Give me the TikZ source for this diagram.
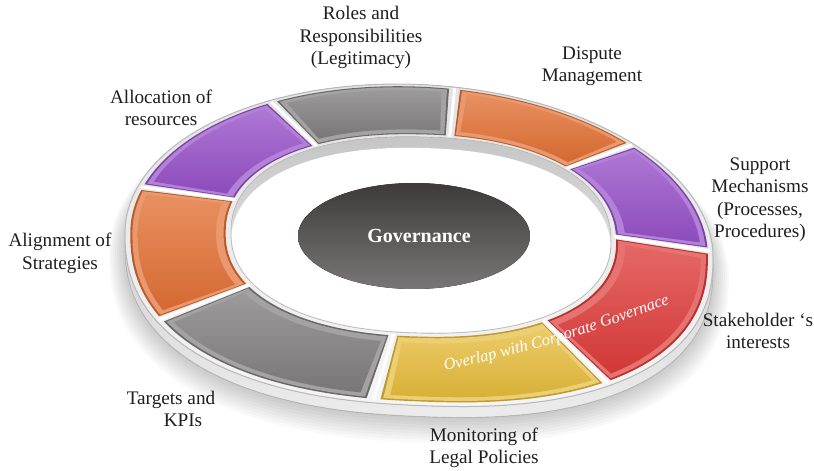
\documentclass[tikz,border=0pt]{standalone}
\usepackage{fontspec}
\setmainfont{Liberation Serif}
\usetikzlibrary{decorations.text}

% points on the ring: #1 = angle, #2 = 0 (inner edge) .. 1 (outer edge)
\newcommand{\ringX}[2]{((1-(#2))*iX(#1)+(#2)*oX(#1))}
\newcommand{\ringY}[2]{((1-(#2))*iY(#1)+(#2)*oY(#1))}
% outline of the ring's outer edge: vertical shift, growth
\newcommand{\outerpath}[2]{plot[domain=0:360,samples=180] ({419+(294+#2)*cpw(\x,ep(\x))},{245+(#1)-(160.5+#2)*spw(\x,ep(\x))+12*cpw(\x,ep(\x))}) -- cycle}
% outline of the hole: vertical shift
\newcommand{\innerpath}[1]{plot[domain=0:360,samples=180] ({iX(\x)},{iY(\x)+(#1)}) -- cycle}
% closed ellipse outline: centre x, centre y, x radius, y radius
\newcommand{\ellpath}[4]{plot[domain=0:360,samples=140] ({(#1)+(#3)*cos(\x)},{(#2)-(#4)*sin(\x)}) -- cycle}

% one sector of the ring: from angle, to angle, inner fraction, outer fraction, style
\newcommand{\ringseg}[5]{%
  \pgfmathsetmacro\segA{#1}\pgfmathsetmacro\segB{#2}%
  \path[#5] plot[domain=\segA:\segB,samples=40] ({\ringX{\x}{#3}},{\ringY{\x}{#3}})
    -- plot[domain=\segB:\segA,samples=40] ({\ringX{\x}{#4}},{\ringY{\x}{#4}}) -- cycle;}

% a bevelled coloured tile
\newcommand{\colourseg}[3]{%
  \ringseg{#1+1.1}{#2-1.1}{0.05}{0.95}{fill=#3!82!black}
  \ringseg{#1+1.5}{#2-1.5}{0.07}{0.93}{fill=#3!72!white}
  \ringseg{#1+2.6}{#2-2.6}{0.14}{0.88}{top color=#3!78!white, bottom color=#3!94!black}}

\definecolor{cgray}{RGB}{128,126,126}
\definecolor{corange}{RGB}{226,112,52}
\definecolor{cpurple}{RGB}{150,80,200}
\definecolor{cred}{RGB}{222,60,58}
\definecolor{cyellow}{RGB}{230,188,60}
\definecolor{hubtop}{RGB}{62,58,58}
\definecolor{hubbot}{RGB}{120,118,118}

\tikzset{
  lbl/.style={align=center, font=\fontsize{9.6}{11.25}\selectfont, text=black!88, inner sep=0pt},
  ridge/.style={white, line width=1.4pt}
}

\begin{document}
\begin{tikzpicture}[x=0.5pt,y=-0.5pt,
  declare function={
    ep(\t)=(sin(\t)<0 ? 0.85 : 1);
    cpw(\t,\e)=(cos(\t)<0 ? -1 : 1)*max(abs(cos(\t)),0.0001)^\e;
    spw(\t,\e)=(sin(\t)<0 ? -1 : 1)*max(abs(sin(\t)),0.0001)^\e;
    oX(\t)=419+294*cpw(\t,ep(\t));
    oY(\t)=245-(sin(\t)<0 ? 160 : 161)*spw(\t,ep(\t))+12*cpw(\t,ep(\t));
    iX(\t)=421+190*cpw(\t,0.9);
    iY(\t)=237-(sin(\t)<0 ? 96 : 100)*spw(\t,0.9)+4*cpw(\t,0.9);
  }]
\useasboundingbox (0,0) rectangle (814,471);
\fill[white] (0,0) rectangle (814,471);

% soft shadow under the ring
\foreach \i in {0,...,8}
  \fill[black,opacity=0.022] \outerpath{13+\i}{2*\i};

% side of the ring
\fill[top color=gray!50, bottom color=gray!15] \outerpath{11}{0};
\draw[gray!55, line width=0.4pt] \outerpath{11}{0};

% top surface of the ring
\fill[even odd rule, top color=gray!22, bottom color=gray!8]
  \outerpath{0}{0} \innerpath{0};
\draw[gray!55, line width=0.5pt] \outerpath{0}{0};

% inner wall of the hole
\fill[top color=gray!45, bottom color=gray!12] \innerpath{0};
\begin{scope}
  \clip \innerpath{0};
  \fill[white] \innerpath{11};
\end{scope}
\draw[gray!50, line width=0.4pt] \innerpath{0};

% coloured tiles
\colourseg{-53}{2}{cred}
\colourseg{2}{43}{cpurple}
\colourseg{43}{83}{corange}
\colourseg{83}{120.5}{cgray}
\colourseg{120.5}{163}{cpurple}
\colourseg{163}{209}{corange}
\colourseg{209}{263.5}{cgray}
\colourseg{263.5}{307}{cyellow}

% raised separators between tiles
\foreach \t in {-53,2,43,83,120.5,163,209,263.5}
  \draw[ridge] ({\ringX{\t}{0.03}},{\ringY{\t}{0.03}}) -- ({\ringX{\t}{0.97}},{\ringY{\t}{0.97}});

% hub
\fill[top color=hubtop, bottom color=hubbot] \ellpath{414}{236}{116}{53};
\node[font=\bfseries\fontsize{10}{12}\selectfont, text=white] (hub) at (419,236) {Governance};

% curved caption across the lower tiles
\coordinate (capA) at (445,371);
\coordinate (capB) at (560,343);
\coordinate (capC) at (670,304);
\path[decorate, decoration={text along path, text align=center, text color=white,
  text={|\itshape\fontsize{8.2}{10}\selectfont|Overlap with Corporate Governace}}]
  (capA) .. controls (capB) .. (capC);

% labels around the ring
\node[lbl] (lroles) at (361,37.5) {Roles and\\Responsibilities\\(Legitimacy)};
\node[lbl] (ldispute) at (592,66) {Dispute\\Management};
\node[lbl] (lalloc) at (161,108) {Allocation of\\resources};
\node[lbl] (lsupport) at (760,199.5) {Support\\Mechanisms\\(Processes,\\Procedures)};
\node[lbl] (lalign) at (60,253.5) {Alignment of\\Strategies};
\node[lbl] (lstake) at (758,331) {Stakeholder ‘s\\interests};
\node[lbl] (ltargets) at (171,409) {Targets and\\\hspace*{12pt}KPIs};
\node[lbl] (lmonitor) at (484,448) {Monitoring of\\Legal Policies};
\end{tikzpicture}
\end{document}
